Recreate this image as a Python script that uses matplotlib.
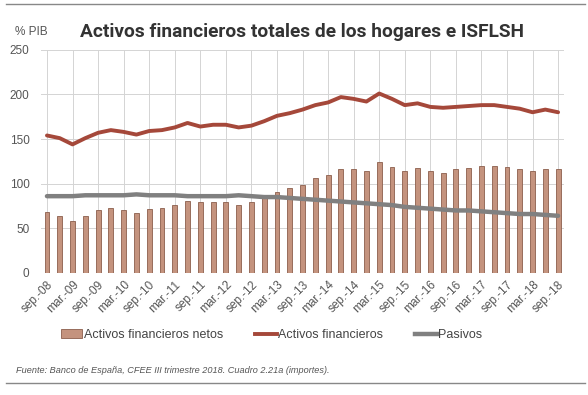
import numpy as np
import matplotlib
matplotlib.use('Agg')
import matplotlib.pyplot as plt
from matplotlib.lines import Line2D

plt.rcParams['font.family'] = ['Liberation Sans', 'DejaVu Sans']

# trimestres sep-08 .. sep-18
quarters = []
for y in range(8, 19):
    for m in ['mar.', 'jun.', 'sep.', 'dic.']:
        quarters.append('%s-%02d' % (m, y))
quarters = quarters[2:-1]

netos = [68, 64, 58, 64, 70, 73, 71, 67, 72, 73, 76, 81, 79, 80, 79, 76, 79, 85, 91, 95, 99,
         106, 110, 116, 116, 114, 124, 119, 114, 117, 114, 112, 116, 117, 120, 120, 119, 116, 114, 116, 116]
activos = [154, 151, 144, 151, 157, 160, 158, 155, 159, 160, 163, 168, 164, 166, 166, 163, 165, 170, 176, 179, 183,
           188, 191, 197, 195, 192, 201, 195, 188, 190, 186, 185, 186, 187, 188, 188, 186, 184, 180, 183, 180]
pasivos = [86, 86, 86, 87, 87, 87, 87, 88, 87, 87, 87, 86, 86, 86, 86, 87, 86, 85, 85, 84, 83,
           82, 81, 80, 79, 78, 77, 76, 74, 73, 72, 71, 70, 70, 69, 68, 67, 66, 66, 65, 64]
yticks = [0, 50, 100, 150, 200, 250]

bar_col = '#c4937e'
red_col = '#a5483a'
grey_col = '#808080'
txt_col = '#555555'

fig = plt.figure(figsize=(5.88, 3.95), dpi=100)
ax = fig.add_axes([0.069, 0.309, 0.891, 0.565])

x = np.arange(len(quarters))
ax.bar(x, netos, width=0.38, color=bar_col, edgecolor='#8c5e4c', linewidth=0.6, zorder=2)
ax.plot(x, activos, color=red_col, lw=2.8, zorder=3, solid_capstyle='round')
ax.plot(x, pasivos, color=grey_col, lw=3.2, zorder=3, solid_capstyle='round')

ax.set_xlim(-0.5, len(quarters) - 0.5)
ax.set_ylim(0, 250)
ax.set_yticks(yticks)
ax.set_xticks(x[::2])
ax.set_xticklabels(quarters[::2], rotation=45, ha='right', rotation_mode='anchor',
                   fontsize=8.5, color=txt_col)
ax.tick_params(axis='y', labelsize=8.5, labelcolor=txt_col, length=0, pad=8)
ax.tick_params(axis='x', length=0, pad=4)
ax.grid(True, color='#d4d4d4', lw=0.7, zorder=0)
ax.set_axisbelow(True)
for s in ax.spines.values():
    s.set_visible(False)

fig.text(0.026, 0.918, '% PIB', fontsize=8.5, color=txt_col, va='center')
fig.text(0.136, 0.92, 'Activos financieros totales de los hogares e ISFLSH',
         fontsize=13.8, fontweight='bold', color='#333333', va='center', family='Roboto')

handles = [plt.Rectangle((0, 0), 1, 1, facecolor=bar_col, edgecolor='#8c5e4c', lw=0.6),
           Line2D([], [], color=red_col, lw=2.8),
           Line2D([], [], color=grey_col, lw=3.2)]
labels = ['Activos financieros netos', 'Activos financieros', 'Pasivos']
fig.legend(handles, labels, loc='center', bbox_to_anchor=(0.462, 0.152), ncol=3, frameon=False,
           fontsize=9, handlelength=1.7, handletextpad=0.1, columnspacing=2.6,
           labelcolor='#444444')

fig.text(0.027, 0.063, 'Fuente: Banco de España, CFEE III trimestre 2018. Cuadro 2.21a (importes).',
         fontsize=6.6, style='italic', color=txt_col, va='center')

fig.add_artist(Line2D([0.01, 0.995], [0.99, 0.99], color='#888888', lw=1))
fig.add_artist(Line2D([0.01, 0.995], [0.03, 0.03], color='#888888', lw=1))

fig.savefig('out.png', dpi=100)
